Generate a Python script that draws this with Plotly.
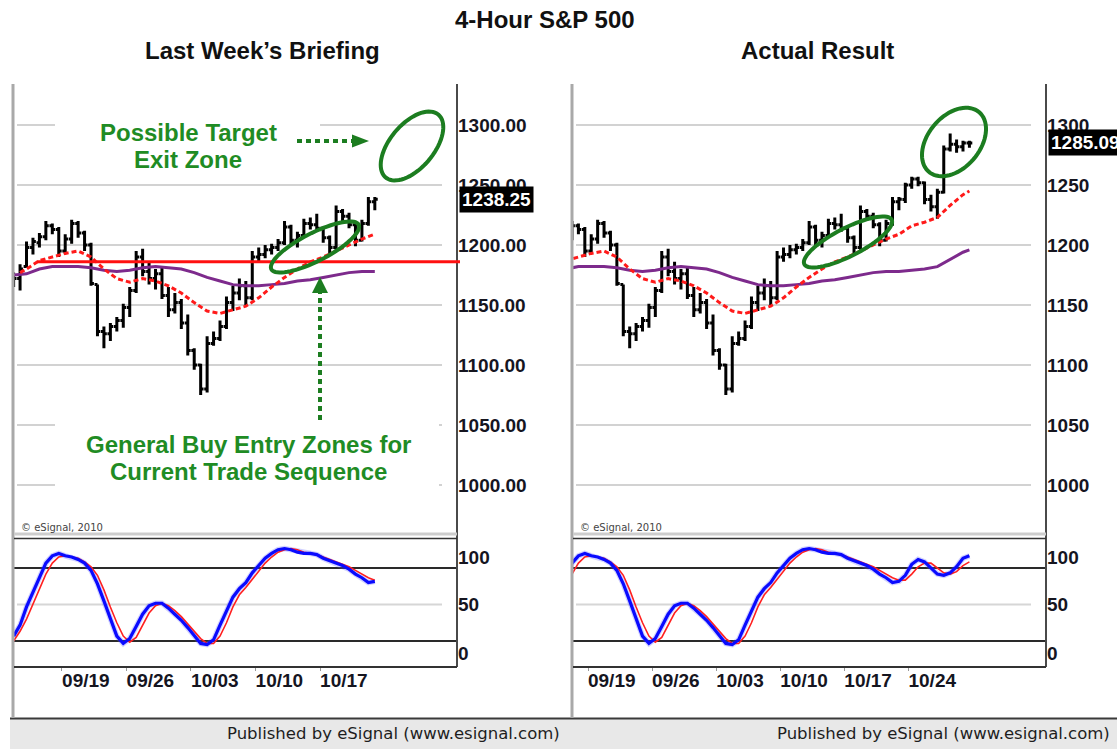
import numpy as np
import plotly.graph_objects as go

W, H = 1117, 749

# ---------------- data ----------------
BAR = list(range(68))  # 4-hour bar index, two bars per session
OPEN = [1168, 1172, 1182, 1198, 1202, 1207, 1216, 1213, 1195, 1205,
        1218, 1210, 1200, 1167, 1128, 1126, 1132, 1137, 1148, 1162,
        1190, 1178, 1172, 1176, 1158, 1146, 1152, 1135, 1112, 1100,
        1080, 1118, 1122, 1132, 1152, 1160, 1166, 1156, 1190, 1192,
        1196, 1198, 1202, 1215, 1204, 1208, 1218, 1217, 1214, 1206,
        1198, 1228, 1224, 1217, 1204, 1218, 1236, 1238, 1250, 1255,
        1252, 1238, 1232, 1244, 1280, 1284, 1282, 1285]
HIGH = [1177, 1184, 1203, 1206, 1210, 1220, 1218, 1215, 1209, 1221,
        1220, 1212, 1202, 1167, 1132, 1135, 1140, 1151, 1165, 1195,
        1197, 1186, 1180, 1182, 1165, 1160, 1155, 1142, 1114, 1101,
        1124, 1128, 1137, 1157, 1166, 1172, 1170, 1195, 1198, 1200,
        1201, 1205, 1220, 1217, 1211, 1222, 1223, 1226, 1215, 1208,
        1233, 1230, 1227, 1219, 1221, 1240, 1240, 1252, 1257, 1257,
        1253, 1242, 1247, 1283, 1293, 1288, 1287, 1287]
LOW = [1165, 1162, 1181, 1192, 1198, 1204, 1209, 1190, 1193, 1201,
       1206, 1195, 1166, 1124, 1114, 1120, 1128, 1131, 1140, 1160,
       1174, 1167, 1163, 1155, 1140, 1143, 1130, 1108, 1096, 1075,
       1077, 1116, 1120, 1130, 1145, 1154, 1150, 1154, 1186, 1189,
       1192, 1195, 1200, 1200, 1198, 1206, 1213, 1211, 1202, 1192,
       1196, 1220, 1214, 1199, 1203, 1216, 1229, 1235, 1247, 1249,
       1234, 1228, 1222, 1243, 1278, 1277, 1278, 1281]
CLOSE = [1172, 1180, 1198, 1203, 1207, 1216, 1213, 1195, 1205, 1218,
         1210, 1200, 1168, 1128, 1126, 1132, 1137, 1148, 1162, 1190,
         1178, 1172, 1176, 1158, 1146, 1152, 1135, 1112, 1100, 1080,
         1118, 1122, 1132, 1152, 1160, 1166, 1156, 1190, 1192, 1196,
         1198, 1202, 1215, 1204, 1208, 1218, 1217, 1214, 1206, 1198,
         1228, 1224, 1217, 1204, 1218, 1236, 1238.25, 1250, 1255, 1252,
         1238, 1232, 1244, 1280, 1284, 1282, 1285, 1285.09]

MA_FAST_BAR = [1, 2, 4, 6, 8, 10, 12, 14, 16, 18, 20, 22, 24, 26, 28, 30, 32, 34,
               36, 38, 40, 42, 44, 46, 48, 50, 52, 54, 56, 58, 60, 62, 64, 66, 67]
MA_FAST = [1177, 1180, 1187, 1190, 1193, 1195, 1190, 1180, 1172, 1169, 1172, 1170,
           1166, 1160, 1152, 1145, 1143, 1146, 1149, 1156, 1165, 1173, 1180, 1186,
           1190, 1195, 1200, 1205, 1209, 1216, 1219, 1223, 1233, 1242, 1245]

MA_SLOW_BAR = [0, 2, 4, 6, 8, 10, 12, 14, 16, 18, 20, 22, 24, 26, 28, 30, 32, 34,
               36, 38, 40, 42, 44, 46, 48, 50, 52, 54, 56, 58, 60, 62, 64, 66, 67]
MA_SLOW = [1175, 1176, 1180, 1182, 1182, 1182, 1181, 1179, 1178, 1179, 1181, 1182,
           1181, 1180, 1177, 1173, 1170, 1167, 1166, 1166, 1167, 1168, 1170, 1171,
           1173, 1175, 1177, 1178, 1178, 1179, 1180, 1182, 1188, 1194, 1196]

STOCH_K = [24, 33, 48, 60, 73, 84, 90, 92, 90, 89, 87, 84, 78, 67, 53, 38, 24, 18,
           22, 32, 42, 49, 51, 51, 47, 42, 37, 31, 24, 18, 17, 21, 33, 45, 56, 63,
           68, 76, 82, 88, 92, 95, 96, 95, 93, 92, 92, 91, 88, 86, 84, 82, 79, 75,
           72, 68, 69, 74, 83, 87, 85, 80, 75, 74, 76, 81, 88, 90]
STOCH_D = [20, 28, 38, 50, 62, 75, 84, 89, 90, 89, 88, 85, 81, 74, 62, 48, 35, 24,
           19, 23, 33, 43, 49, 51, 49, 45, 40, 34, 28, 22, 18, 18, 24, 35, 48, 58,
           64, 71, 78, 84, 89, 93, 95, 96, 95, 93, 92, 91, 89, 87, 85, 83, 81, 78,
           75, 72, 70, 70, 75, 81, 84, 84, 80, 76, 75, 77, 82, 85]

PRICE_TICKS = [1000, 1050, 1100, 1150, 1200, 1250, 1300]
DATE_LABELS = ["09/19", "09/26", "10/03", "10/10", "10/17", "10/24"]
WEEK_FIRST_BAR = [8, 18, 28, 38, 48, 58]
STOCH_LABELS = ["100", "50", "0"]
STOCH_LEVELS = [100, 50, 0]
OVERBOUGHT, MIDLINE, OVERSOLD = 80, 50, 20
SUPPORT_LEVEL = 1186

# ---------------- layout helpers ----------------
def px(x):
    return x / W


def py(y):
    return 1 - y / H


GREEN_TXT = "#1f8c24"
GREEN_LINE = "#1c7d20"
AX_FONT = dict(family="Liberation Sans, Arial", size=19, color="#15151f", weight="bold")

MAIN_TOP, MAIN_BOT = 84, 533
ST_TOP, ST_BOT = 540, 667
MAIN_RANGE = [960, 1334.2]
ST_RANGE = [-1.37, 103.0]

panels = [
    dict(x0=14, x1=457, rng=[0.06, 68.74], first=0, last=56, nweeks=5,
         fmt="{:.2f}", main=("x", "y"), st=("x2", "y2"), foot=(10, 567)),
    dict(x0=573, x1=1046, rng=[5.156, 78.95], first=5, last=67, nweeks=6,
         fmt="{:.0f}", main=("x3", "y3"), st=("x4", "y4"), foot=(567, 1117)),
]

fig = go.Figure()
shapes = []
annotations = []
layout = dict(width=W, height=H, margin=dict(l=0, r=0, t=0, b=0),
              paper_bgcolor="white", plot_bgcolor="white", showlegend=False)


def axname(ref):
    return "xaxis" + ref[1:] if ref.startswith("x") else "yaxis" + ref[1:]


def hline_paper(x0, x1, y, color, width, dash=None, layer="below"):
    shapes.append(dict(type="line", xref="paper", yref="paper", x0=px(x0), x1=px(x1),
                       y0=py(y), y1=py(y), layer=layer,
                       line=dict(color=color, width=width, dash=dash)))


def vline_paper(x, y0, y1, color, width, dash=None, layer="below"):
    shapes.append(dict(type="line", xref="paper", yref="paper", x0=px(x), x1=px(x),
                       y0=py(y0), y1=py(y1), layer=layer,
                       line=dict(color=color, width=width, dash=dash)))


for p in panels:
    xm, ym = p["main"]
    xs, ys = p["st"]
    lo, hi = p["first"], p["last"]
    dom = [px(p["x0"]), px(p["x1"])]

    # --- moving averages
    sb = [b for b in MA_SLOW_BAR if lo - 2 <= b <= hi]
    sv = [MA_SLOW[MA_SLOW_BAR.index(b)] for b in sb]
    fig.add_trace(go.Scatter(x=sb, y=sv, mode="lines", xaxis=xm, yaxis=ym,
                             line=dict(color="#7d2a8c", width=3), hoverinfo="skip"))
    # --- price bars
    sl = slice(lo, hi + 1)
    fig.add_trace(go.Ohlc(x=BAR[sl], open=OPEN[sl], high=HIGH[sl], low=LOW[sl],
                          close=CLOSE[sl], xaxis=xm, yaxis=ym, tickwidth=0.45,
                          increasing=dict(line=dict(color="black", width=3)),
                          decreasing=dict(line=dict(color="black", width=3)),
                          hoverinfo="skip"))
    fb = [b for b in MA_FAST_BAR if lo - 2 <= b <= hi]
    fv = [MA_FAST[MA_FAST_BAR.index(b)] for b in fb]
    fig.add_trace(go.Scatter(x=fb, y=fv, mode="lines", xaxis=xm, yaxis=ym,
                             line=dict(color="#ff1a1a", width=3, dash="5px,3px"),
                             hoverinfo="skip"))
    # --- stochastic
    stb = [b for b in BAR if lo - 1 <= b <= hi]
    kv = [STOCH_K[b] for b in stb]
    dv = [STOCH_D[b] for b in stb]
    fig.add_trace(go.Scatter(x=stb, y=kv, mode="lines", xaxis=xs, yaxis=ys,
                             line=dict(color="rgba(90,90,255,0.28)", width=5.5),
                             hoverinfo="skip"))
    fig.add_trace(go.Scatter(x=stb, y=dv, mode="lines", xaxis=xs, yaxis=ys,
                             line=dict(color="#ff2020", width=1.6), hoverinfo="skip"))
    fig.add_trace(go.Scatter(x=stb, y=kv, mode="lines", xaxis=xs, yaxis=ys,
                             line=dict(color="#0a0aff", width=3.2), hoverinfo="skip"))

    # --- axes
    layout[axname(xm)] = dict(domain=dom, range=p["rng"], anchor=ym, showgrid=False,
                              zeroline=False, showticklabels=False, ticks="",
                              rangeslider=dict(visible=False), fixedrange=True)
    layout[axname(ym)] = dict(domain=[py(MAIN_BOT), py(MAIN_TOP)], range=MAIN_RANGE,
                              anchor=xm, side="right", showgrid=False, zeroline=False,
                              tickmode="array", tickvals=PRICE_TICKS,
                              ticktext=[p["fmt"].format(v) for v in PRICE_TICKS],
                              ticks="", tickfont=AX_FONT, fixedrange=True)
    weeks = WEEK_FIRST_BAR[:p["nweeks"]]
    layout[axname(xs)] = dict(domain=dom, range=p["rng"], anchor=ys, showgrid=False,
                              zeroline=False, tickmode="array",
                              tickvals=[w + 3.2 for w in weeks],
                              ticktext=DATE_LABELS[:p["nweeks"]], ticks="",
                              tickfont=AX_FONT, fixedrange=True,
                              minor=dict(tickmode="array", tickvals=[w - 0.5 for w in weeks],
                                         ticks="outside", ticklen=3, tickcolor="#999",
                                         showgrid=False))
    # labels clamped inside the pane, as the charting package does
    lab_pos = [min(max(v, 10.1), 89.0) for v in STOCH_LEVELS]
    layout[axname(ys)] = dict(domain=[py(ST_BOT), py(ST_TOP)], range=ST_RANGE,
                              anchor=xs, side="right", showgrid=False, zeroline=False,
                              tickmode="array", tickvals=lab_pos, ticktext=STOCH_LABELS,
                              ticks="", tickfont=AX_FONT, fixedrange=True)

    # --- grid / frame shapes
    for v in PRICE_TICKS:
        shapes.append(dict(type="line", xref="paper", yref=ym, x0=px(p["x0"] + 3),
                           x1=px(p["x1"] - 15), y0=v, y1=v, layer="below",
                           line=dict(color="#d2d2d2", width=2)))
    shapes.append(dict(type="line", xref="paper", yref=ys, x0=px(p["x0"] + 3),
                       x1=px(p["x1"] - 15), y0=MIDLINE, y1=MIDLINE, layer="below",
                       line=dict(color="#d6d6d6", width=2)))
    for v in (OVERBOUGHT, OVERSOLD):
        shapes.append(dict(type="line", xref="paper", yref=ys, x0=px(p["x0"]),
                           x1=px(p["x1"]), y0=v, y1=v, layer="below",
                           line=dict(color="#2a2a2a", width=2)))
    # footer bar
    f0, f1 = p["foot"]
    shapes.append(dict(type="rect", xref="paper", yref="paper", x0=px(f0), x1=px(f1),
                       y0=py(749), y1=py(719), layer="below",
                       fillcolor="#e8e8e8", line=dict(width=0)))
    hline_paper(f0, f1, 718.5, "#3a3a3a", 2)
    vline_paper(p["x1"], MAIN_TOP, ST_BOT, "#4a4a4a", 2, layer="above")
    vline_paper(p["x0"] - 1, MAIN_TOP, 718, "#a9a9a9", 3, layer="above")
    hline_paper(p["x0"], p["x1"], 534, "#cdcdcd", 3, layer="above")
    hline_paper(p["x0"], p["x1"], 538.5, "#333333", 1.5, layer="above")
    hline_paper(p["x0"], p["x1"], ST_BOT, "#333333", 2, layer="above")

    # copyright + footer text
    annotations.append(dict(xref="paper", yref="paper", x=px(p["x0"] + 5), y=py(527),
                            xanchor="left", yanchor="middle", showarrow=False,
                            text="© eSignal, 2010",
                            font=dict(family="DejaVu Sans", size=10, color="#444")))
    annotations.append(dict(xref="paper", yref="paper", x=px(f1 - 5), y=py(733),
                            xanchor="right", yanchor="middle", showarrow=False,
                            text="Published by eSignal (www.esignal.com)",
                            font=dict(family="DejaVu Sans", size=16.5, color="#1e1e1e")))
    # last price tag
    last = CLOSE[hi]
    annotations.append(dict(xref="paper", yref=ym, x=px(p["x1"] + 2), y=last,
                            xanchor="left", yanchor="middle", showarrow=False,
                            text="{:.2f}".format(last),
                            bgcolor="black", borderpad=2,
                            font=dict(family="Liberation Sans, Arial", size=19,
                                      color="white", weight="bold")))

# ---- white boxes behind the left-panel notes (hide grid)
for (x0, x1, y0, y1) in [(55, 320, 106, 176), (55, 439, 416, 500)]:
    shapes.append(dict(type="rect", xref="paper", yref="paper", x0=px(x0), x1=px(x1),
                       y0=py(y1), y1=py(y0), layer="below", fillcolor="white",
                       line=dict(width=0)))

# ---- support line on left chart
shapes.append(dict(type="line", xref="paper", yref="y", x0=px(37), x1=px(460),
                   y0=SUPPORT_LEVEL, y1=SUPPORT_LEVEL, layer="above",
                   line=dict(color="#ff1010", width=3)))


# ---- ellipses
def ellipse_path(cx, cy, a, b, ang_deg, n=72):
    t = np.linspace(0, 2 * np.pi, n)
    th = np.radians(ang_deg)
    xs_ = cx + a * np.cos(th) * np.cos(t) - b * np.sin(th) * np.sin(t)
    ys_ = cy - (a * np.sin(th) * np.cos(t) + b * np.cos(th) * np.sin(t))
    pts = [f"{px(x):.5f},{py(y):.5f}" for x, y in zip(xs_, ys_)]
    return "M" + " L".join(pts) + " Z"


for (cx, cy, a, b, ang) in [(412, 146, 41, 22, 50), (315, 247, 49, 14, 27),
                            (848, 242, 49, 14, 27), (954, 142, 39, 26, 50)]:
    shapes.append(dict(type="path", xref="paper", yref="paper",
                       path=ellipse_path(cx, cy, a, b, ang), layer="above",
                       line=dict(color=GREEN_LINE, width=4)))

# ---- dotted arrows
shapes.append(dict(type="line", xref="paper", yref="paper", x0=px(297), x1=px(353),
                   y0=py(141), y1=py(141), layer="above",
                   line=dict(color=GREEN_LINE, width=4, dash="5px,4px")))
shapes.append(dict(type="path", xref="paper", yref="paper", layer="above",
                   path=f"M{px(352)},{py(134.5)} L{px(369)},{py(141)} L{px(352)},{py(147.5)} Z",
                   fillcolor=GREEN_LINE, line=dict(width=0)))
shapes.append(dict(type="line", xref="paper", yref="paper", x0=px(320), x1=px(320),
                   y0=py(420), y1=py(292), layer="above",
                   line=dict(color=GREEN_LINE, width=4, dash="5px,4px")))
shapes.append(dict(type="path", xref="paper", yref="paper", layer="above",
                   path=f"M{px(312)},{py(293)} L{px(320)},{py(277)} L{px(328)},{py(293)} Z",
                   fillcolor=GREEN_LINE, line=dict(width=0)))


# ---- texts
def txt(text, x, y, size, color, weight="bold", family="Liberation Sans, Arial"):
    annotations.append(dict(xref="paper", yref="paper", x=px(x), y=py(y),
                            xanchor="center", yanchor="middle", showarrow=False,
                            text=text, font=dict(family=family, size=size,
                                                 color=color, weight=weight)))


txt("4-Hour S&amp;P 500", 545, 20, 24, "#111")
txt("Last Week’s Briefing", 262, 50, 24, "#111")
txt("Actual Result", 817, 50, 24, "#111")
txt("Possible Target", 188, 132, 24, GREEN_TXT)
txt("Exit Zone", 188, 159, 24, GREEN_TXT)
txt("General Buy Entry Zones for", 248, 444, 24, GREEN_TXT)
txt("Current Trade Sequence", 248, 471, 24, GREEN_TXT)

layout["shapes"] = shapes
layout["annotations"] = annotations
fig.update_layout(**layout)
fig.write_html(
    "out.html",
    config={"displayModeBar": False, "responsive": False},
    post_script="document.body.style.margin='0';document.body.style.padding='0';"
                "document.body.style.overflow='hidden';",
)
